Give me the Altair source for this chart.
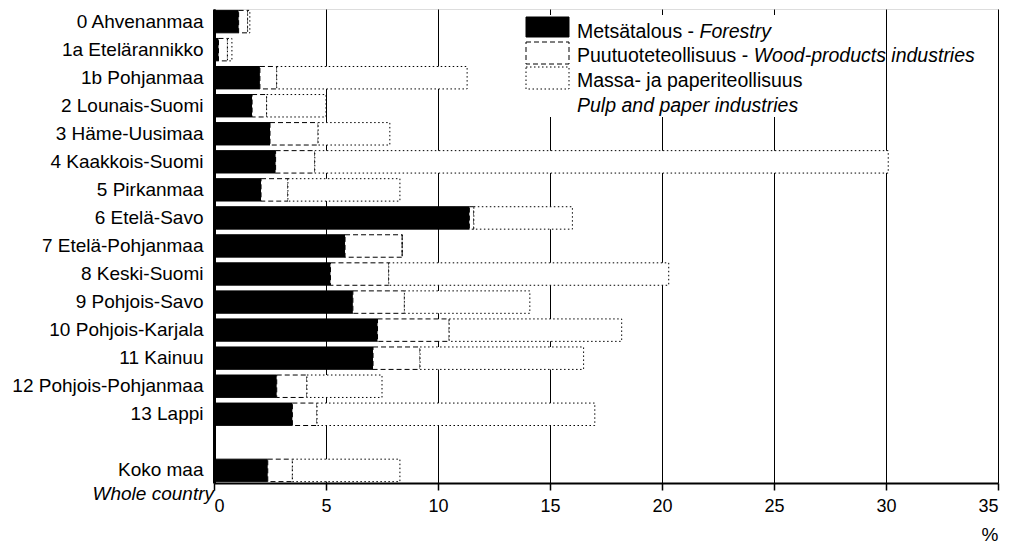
import altair as alt
import pandas as pd

regions = ["0 Ahvenanmaa", "1a Etelärannikko", "1b Pohjanmaa", "2 Lounais-Suomi",
           "3 Häme-Uusimaa", "4 Kaakkois-Suomi", "5 Pirkanmaa", "6 Etelä-Savo",
           "7 Etelä-Pohjanmaa", "8 Keski-Suomi", "9 Pohjois-Savo", "10 Pohjois-Karjala",
           "11 Kainuu", "12 Pohjois-Pohjanmaa", "13 Lappi", "Koko maa"]
forestry = [1.1, 0.2, 2.05, 1.7, 2.5, 2.75, 2.1, 11.4, 5.85, 5.2, 6.2, 7.3, 7.1, 2.8, 3.5, 2.4]
wood = [0.4, 0.4, 0.75, 0.65, 2.15, 1.75, 1.2, 0.2, 2.55, 2.6, 2.3, 3.2, 2.1, 1.35, 1.1, 1.1]
pulp = [0.1, 0.2, 8.5, 2.65, 3.2, 25.6, 5.0, 4.4, 0.0, 12.5, 5.6, 7.7, 7.3, 3.35, 12.4, 4.8]

series = ["Forestry", "Wood", "Pulp"]
y_order = regions[:15] + ["blank"] + regions[15:]
x_ticks = [0, 5, 10, 15, 20, 25, 30, 35]

rows = []
for i, r in enumerate(regions):
    for k, (s, vals) in enumerate(zip(series, [forestry, wood, pulp])):
        rows.append({"region": r, "series": s, "value": vals[i], "ord": k})
df = pd.DataFrame(rows)

FONT = "Liberation Sans"

bars = alt.Chart(df).mark_bar(stroke="black", strokeWidth=1).encode(
    y=alt.Y("region:N", sort=y_order,
            scale=alt.Scale(domain=y_order, paddingInner=0.2, paddingOuter=0.05),
            axis=alt.Axis(title=None, ticks=False, labelPadding=11, labelFontSize=19,
                          labelFont=FONT, labelColor="black", domainColor="black",
                          domainWidth=3, zindex=1, labelLimit=300,
                          labelExpr="datum.value == 'blank' ? '' : datum.value")),
    x=alt.X("value:Q", stack="zero",
            scale=alt.Scale(domain=[0, 35], nice=False),
            axis=alt.Axis(values=x_ticks, title="%", titleAnchor="end", titleAlign="right",
                          titleFont=FONT, titleFontSize=19, titleFontWeight="normal",
                          titleColor="black", titlePadding=10,
                          labelFont=FONT, labelFontSize=18, labelColor="black",
                          labelPadding=7, tickSize=7, tickColor="black", tickWidth=1.5,
                          domainColor="black", domainWidth=2,
                          grid=True, gridColor="black", gridWidth=1, gridOpacity=1)),
    fill=alt.Fill("series:N", scale=alt.Scale(domain=series, range=["black", "white", "white"]),
                  legend=None),
    strokeDash=alt.StrokeDash("series:N",
                              scale=alt.Scale(domain=series, range=[[1, 0], [5, 3], [1.5, 2.5]]),
                              legend=None),
    order=alt.Order("ord:Q"),
)

one = pd.DataFrame({"a": [0]})
base = alt.Chart(one)

legend_bg = base.mark_rect(fill="white", stroke=None).encode(
    x=alt.value(306), x2=alt.value(668), y=alt.value(6), y2=alt.value(108))

sw_forest = base.mark_rect(fill="black", stroke="black").encode(
    x=alt.value(312), x2=alt.value(355), y=alt.value(8), y2=alt.value(28))
sw_wood = base.mark_rect(fill="white", stroke="black", strokeDash=[5, 3], strokeWidth=1).encode(
    x=alt.value(312), x2=alt.value(355), y=alt.value(33), y2=alt.value(55))
sw_pulp = base.mark_rect(fill="white", stroke="black", strokeDash=[1.5, 2.5], strokeWidth=1).encode(
    x=alt.value(312), x2=alt.value(355), y=alt.value(58), y2=alt.value(80))

def txt(s, x, y, italic=False, align="left", baseline="alphabetic"):
    return base.mark_text(text=s, font=FONT, fontSize=19.5, align=align, baseline=baseline,
                          fontStyle="italic" if italic else "normal", color="black").encode(
        x=alt.value(x), y=alt.value(y))

texts = [
    txt("Metsätalous - ", 363, 29),
    txt("Forestry", 485.5, 29, italic=True),
    txt("Puutuoteteollisuus - ", 363, 53),
    txt("Wood-products industries", 539.7, 53, italic=True),
    txt("Massa- ja paperiteollisuus", 363, 78),
    txt("Pulp and paper industries", 363, 103, italic=True),
]
whole = base.mark_text(text="Whole country", font=FONT, fontSize=19, fontStyle="italic",
                       align="right", baseline="middle", color="black").encode(
    x=alt.value(0), y=alt.value(485))

chart = alt.layer(bars, legend_bg, sw_forest, sw_wood, sw_pulp, *texts, whole).properties(
    width=784, height=474,
    autosize=alt.AutoSizeParams(type="none"),
    padding={"left": 206, "top": 1, "right": 5, "bottom": 60},
).configure_view(stroke="black", strokeWidth=1.5).configure(background="white")

chart.save("out.html", embed_options={"renderer": "svg", "actions": False})
